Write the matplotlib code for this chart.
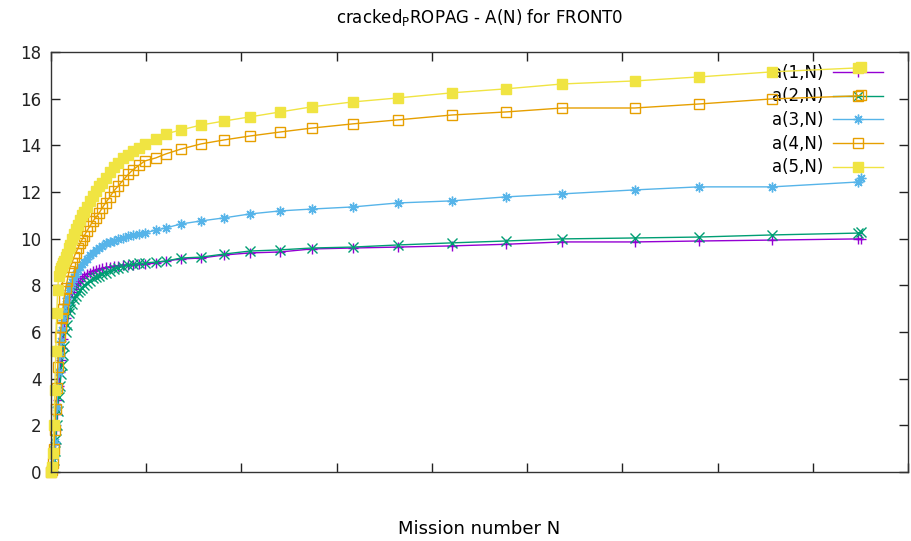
import matplotlib
matplotlib.use("Agg")
import matplotlib.pyplot as plt

# mission numbers (shared by all series)
missions = [0, 10, 20, 30, 40, 50, 60, 70, 80, 95, 105, 115, 125, 135, 155, 170,
            190, 200, 220, 240, 260, 285, 305, 325, 345, 380, 410, 440, 470, 505,
            535, 575, 620, 660, 705, 755, 810, 860, 925,
            985, 1100, 1205, 1365, 1575, 1815, 2090, 2405, 2740, 3170, 3640,
            4210, 4775, 5370, 6130, 6800, 7575, 8480, 8510]

a1 = [0, 0.1, 0.3, 0.7, 1.2, 1.8, 2.5, 3.1, 3.7, 4.3, 4.8, 5.3, 5.7, 6.1, 6.6,
      6.9, 7.3, 7.5, 7.7, 7.85, 8.0, 8.1, 8.2, 8.3, 8.38, 8.48, 8.55, 8.6, 8.65,
      8.7, 8.73, 8.77, 8.8, 8.83, 8.85, 8.87, 8.88, 8.89, 8.9,
      8.91, 8.96, 9.04, 9.13, 9.17, 9.30, 9.39, 9.43, 9.56, 9.60, 9.64, 9.69,
      9.76, 9.86, 9.86, 9.90, 9.94, 9.99, 10.0]

a2 = [0, 0.1, 0.2, 0.5, 0.9, 1.4, 2.0, 2.6, 3.2, 3.7, 4.2, 4.6, 5.0, 5.4, 6.0,
      6.3, 6.8, 7.0, 7.2, 7.4, 7.55, 7.7, 7.8, 7.9, 8.0, 8.1, 8.2, 8.3, 8.35,
      8.42, 8.48, 8.55, 8.62, 8.68, 8.75, 8.8, 8.86, 8.9, 8.94,
      8.96, 9.0, 9.04, 9.17, 9.21, 9.34, 9.47, 9.52, 9.60, 9.64, 9.73, 9.82,
      9.90, 9.99, 10.03, 10.07, 10.16, 10.24, 10.28]

a3 = [0, 0.1, 0.3, 0.7, 1.3, 2.0, 2.8, 3.6, 4.3, 5.0, 5.6, 6.1, 6.5, 6.8, 7.2,
      7.45, 7.8, 7.95, 8.15, 8.35, 8.5, 8.65, 8.8, 8.9, 9.0, 9.15, 9.3, 9.4,
      9.5, 9.6, 9.7, 9.8, 9.85, 9.92, 10.0, 10.05, 10.1, 10.15, 10.2,
      10.24, 10.37, 10.46, 10.63, 10.76, 10.89, 11.06, 11.19, 11.27, 11.36,
      11.53, 11.62, 11.79, 11.92, 12.09, 12.22, 12.22, 12.43, 12.6]

a4 = [0, 0.1, 0.4, 1.0, 1.8, 2.7, 3.6, 4.5, 5.2, 5.8, 6.2, 6.6, 7.0, 7.4, 7.9,
      8.2, 8.6, 8.8, 8.95, 9.2, 9.4, 9.6, 9.8, 9.95, 10.1, 10.35, 10.55, 10.75,
      10.9, 11.1, 11.3, 11.55, 11.8, 12.05, 12.25, 12.5, 12.75, 12.95, 13.15,
      13.33, 13.46, 13.63, 13.84, 14.06, 14.23, 14.40, 14.57, 14.74, 14.92,
      15.09, 15.30, 15.43, 15.60, 15.60, 15.77, 15.99, 16.12, 16.15]

a5 = [0, 0.2, 0.8, 2.0, 3.5, 5.2, 6.8, 7.8, 8.4, 8.6, 8.75, 8.85, 8.95, 9.05,
      9.2, 9.35, 9.6, 9.75, 10.0, 10.2, 10.4, 10.6, 10.8, 11.0, 11.15, 11.35,
      11.6, 11.85, 12.05, 12.25, 12.4, 12.6, 12.85, 13.05, 13.25, 13.45, 13.6,
      13.75, 13.9,
      14.06, 14.27, 14.49, 14.66, 14.87, 15.04, 15.22, 15.43, 15.65, 15.86,
      16.03, 16.25, 16.42, 16.63, 16.76, 16.93, 17.15, 17.32, 17.35]

labels = ["a(1,N)", "a(2,N)", "a(3,N)", "a(4,N)", "a(5,N)"]
series = [a1, a2, a3, a4, a5]
colors = ["#9400d3", "#009e73", "#56b4e9", "#e69f00", "#f0e442"]
markers = ["+", "x", (8, 2, 0), "s", "s"]
filled = [True, True, True, False, True]

fig = plt.figure(figsize=(9.11, 5.41), dpi=100)
ax = fig.add_axes([0.056, 0.1275, 0.9407, 0.7764])

for y, lab, c, m, f in zip(series, labels, colors, markers, filled):
    ax.plot(missions, y, color=c, lw=1.0, marker=m, ms=7,
            mfc=c if f else "none", mec=c, mew=1.0, label=lab, clip_on=False)

ax.set_xlim(0, 9000)
ax.set_ylim(0, 18)
ax.set_xticks(range(0, 9001, 1000))
ax.set_xticklabels([""] * 10)
ax.set_yticks(range(0, 19, 2))
ax.tick_params(direction="in", length=6.5, width=1, top=True, right=True,
               labelsize=12, pad=7, colors="#222222")
for s in ax.spines.values():
    s.set_color("#333333")
    s.set_linewidth(1.0)

ax.set_title(r"cracked$_\mathregular{P}$ROPAG - A(N) for FRONT0",
             fontsize=12, pad=21)
ax.set_xlabel("Mission number N", fontsize=13)
ax.xaxis.set_label_coords(0.5, -0.115)

leg = ax.legend(loc="upper right", bbox_to_anchor=(0.971, 0.972), frameon=False,
                markerfirst=False, fontsize=12, handlelength=3.0,
                handletextpad=0.6, labelspacing=0.34, borderpad=0,
                borderaxespad=0)
leg.set_zorder(1)

fig.savefig("out.png", dpi=100)
